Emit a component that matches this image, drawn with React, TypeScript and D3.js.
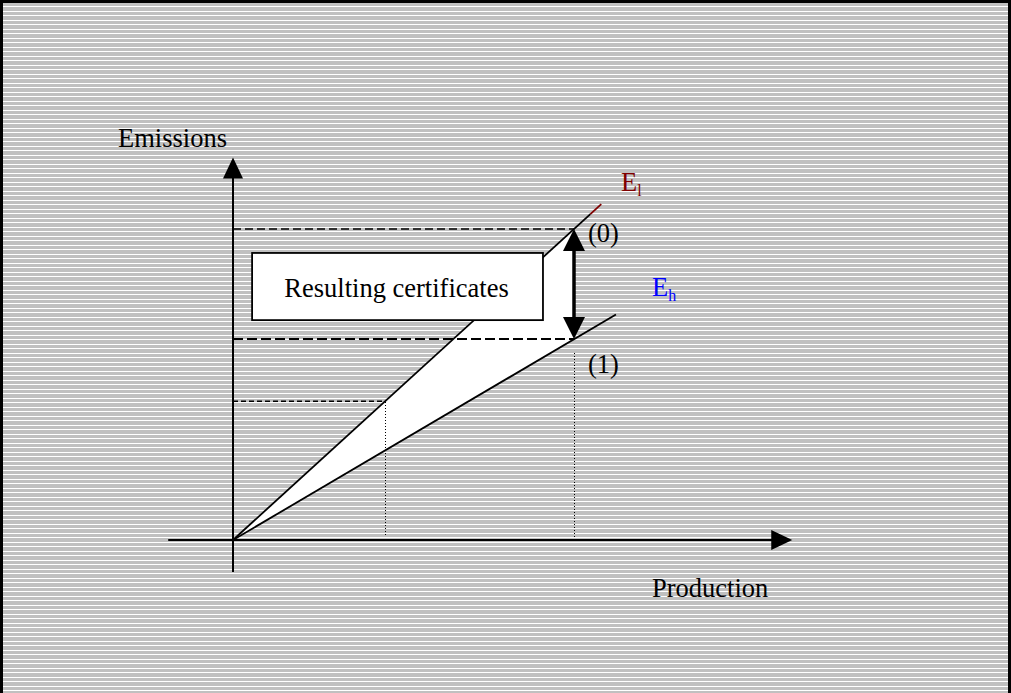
import * as d3 from "d3";
import { useEffect, useRef } from "react";

// abstract units: production on x, emissions on y (origin = 0,0)
const xAxisExtent = [-19, 164];
const yAxisExtent = [-10.3, 123];
const elLine = [
	{ x: 0, y: 0 },
	{ x: 108, y: 108 },
];
const elBlackEnd = 104.8;
const ehLine = [
	{ x: 0, y: 0 },
	{ x: 112.3, y: 72.5 },
];
const point0 = { x: 100, y: 100 };
const point1 = { x: 100, y: 64.6 };
const pointQ1 = { x: 44.6, y: 44.6 };
const certificateBox = { x0: 5.6, x1: 90.9, y0: 70.7, y1: 92.3 };

const W = 1011;
const H = 693;

const App = () => {
	const svgRef = useRef<SVGSVGElement>(null);

	useEffect(() => {
		const x = d3.scaleLinear().domain([0, 100]).range([233, 574]);
		const y = d3.scaleLinear().domain([0, 100]).range([540, 229]);
		const font = "'Liberation Serif', 'Times New Roman', serif";
		const fs = 26.5;

		const svg = d3.select(svgRef.current).html("");

		// striped background
		const defs = svg.append("defs");
		const pat = defs
			.append("pattern")
			.attr("id", "stripes")
			.attr("patternUnits", "userSpaceOnUse")
			.attr("width", 10)
			.attr("height", 9);
		pat.append("rect").attr("width", 10).attr("height", 9).attr("fill", "#c0c0c0");
		pat.append("rect").attr("y", 2).attr("width", 10).attr("height", 1).attr("fill", "#ffffff");
		pat.append("rect").attr("y", 6).attr("width", 10).attr("height", 1).attr("fill", "#ffffff");

		svg.append("rect")
			.attr("width", W)
			.attr("height", H)
			.attr("fill", "url(#stripes)");
		svg.append("rect")
			.attr("x", 1.5)
			.attr("y", 1.5)
			.attr("width", W - 3)
			.attr("height", H + 10)
			.attr("fill", "none")
			.attr("stroke", "#000")
			.attr("stroke-width", 3);

		const line = d3
			.line<{ x: number; y: number }>()
			.x((d) => x(d.x))
			.y((d) => y(d.y));

		// white area between the two curves up to q0
		svg.append("path")
			.datum([{ x: 0, y: 0 }, point0, point1])
			.attr("d", (d) => line(d) + "Z")
			.attr("fill", "#fff");

		// dashed guide lines
		svg.append("line")
			.attr("x1", x(0))
			.attr("x2", x(point0.x))
			.attr("y1", y(point0.y))
			.attr("y2", y(point0.y))
			.attr("stroke", "#000")
			.attr("stroke-width", 1.6)
			.attr("stroke-dasharray", "8,4");
		svg.append("line")
			.attr("x1", x(0))
			.attr("x2", x(point1.x))
			.attr("y1", y(point1.y))
			.attr("y2", y(point1.y))
			.attr("stroke", "#000")
			.attr("stroke-width", 2)
			.attr("stroke-dasharray", "10,4");
		svg.append("line")
			.attr("x1", x(0))
			.attr("x2", x(pointQ1.x))
			.attr("y1", y(pointQ1.y))
			.attr("y2", y(pointQ1.y))
			.attr("stroke", "#000")
			.attr("stroke-width", 1.6)
			.attr("stroke-dasharray", "5,3");

		// dotted verticals
		const dotted = (px: number, y1: number) =>
			svg.append("line")
				.attr("x1", Math.round(px) + 0.5)
				.attr("x2", Math.round(px) + 0.5)
				.attr("y1", y1)
				.attr("y2", y(0) - 3)
				.attr("stroke", "#000")
				.attr("stroke-width", 1)
				.attr("shape-rendering", "crispEdges")
				.attr("stroke-dasharray", "1,2");
		dotted(x(pointQ1.x), y(pointQ1.y) + 1);
		dotted(x(point1.x), y(point1.y) + 14);

		// E_l line (black body, red tip)
		svg.append("path")
			.datum([elLine[0], { x: elBlackEnd, y: elBlackEnd }])
			.attr("d", line)
			.attr("stroke", "#000")
			.attr("stroke-width", 1.8)
			.attr("fill", "none");
		svg.append("path")
			.datum([{ x: elBlackEnd, y: elBlackEnd }, elLine[1]])
			.attr("d", line)
			.attr("stroke", "#800000")
			.attr("stroke-width", 1.8)
			.attr("fill", "none");
		// E_h line
		svg.append("path")
			.datum(ehLine)
			.attr("d", line)
			.attr("stroke", "#000")
			.attr("stroke-width", 1.8)
			.attr("fill", "none");

		// certificate box
		svg.append("rect")
			.attr("x", x(certificateBox.x0))
			.attr("y", y(certificateBox.y1))
			.attr("width", x(certificateBox.x1) - x(certificateBox.x0))
			.attr("height", y(certificateBox.y0) - y(certificateBox.y1))
			.attr("fill", "#fff")
			.attr("stroke", "#000")
			.attr("stroke-width", 1.8);
		svg.append("text")
			.attr("x", (x(certificateBox.x0) + x(certificateBox.x1)) / 2 - 1)
			.attr("y", 297)
			.attr("text-anchor", "middle")
			.attr("font-family", font)
			.attr("font-size", fs)
			.text("Resulting certificates");

		// axes
		svg.append("line")
			.attr("x1", x(xAxisExtent[0]))
			.attr("x2", x(xAxisExtent[1]) - 10)
			.attr("y1", y(0))
			.attr("y2", y(0))
			.attr("stroke", "#000")
			.attr("stroke-width", 2);
		svg.append("path")
			.attr("d", `M${x(xAxisExtent[1])},${y(0)}L${x(xAxisExtent[1]) - 21},${y(0) - 10}L${x(xAxisExtent[1]) - 21},${y(0) + 10}Z`)
			.attr("fill", "#000");
		svg.append("line")
			.attr("x1", x(0))
			.attr("x2", x(0))
			.attr("y1", y(yAxisExtent[0]))
			.attr("y2", y(yAxisExtent[1]) + 10)
			.attr("stroke", "#000")
			.attr("stroke-width", 2);
		svg.append("path")
			.attr("d", `M${x(0)},${y(yAxisExtent[1])}L${x(0) - 10},${y(yAxisExtent[1]) + 21}L${x(0) + 10},${y(yAxisExtent[1]) + 21}Z`)
			.attr("fill", "#000");

		// double arrow between (0) and (1)
		const ax = x(point0.x);
		const top = y(point0.y);
		const bot = y(point1.y);
		svg.append("line")
			.attr("x1", ax)
			.attr("x2", ax)
			.attr("y1", top + 15)
			.attr("y2", bot - 15)
			.attr("stroke", "#000")
			.attr("stroke-width", 3.5);
		svg.append("path")
			.attr("d", `M${ax},${top}L${ax - 11},${top + 22}L${ax + 11},${top + 22}Z`)
			.attr("fill", "#000");
		svg.append("path")
			.attr("d", `M${ax},${bot}L${ax - 11},${bot - 22}L${ax + 11},${bot - 22}Z`)
			.attr("fill", "#000");

		// labels
		const label = (tx: number, ty: number, t: string, color = "#000") =>
			svg.append("text")
				.attr("x", tx)
				.attr("y", ty)
				.attr("font-family", font)
				.attr("font-size", fs)
				.attr("fill", color)
				.text(t);
		label(118, 147, "Emissions");
		label(652, 597, "Production");
		label(588, 242, "(0)");
		label(588, 373, "(1)");

		const sub = (tx: number, ty: number, main: string, s: string, color: string) => {
			const t = svg.append("text")
				.attr("x", tx)
				.attr("y", ty)
				.attr("font-family", font)
				.attr("font-size", fs)
				.attr("fill", color);
			t.append("tspan").text(main);
			t.append("tspan").attr("dy", 5).attr("font-size", 16).text(s);
		};
		sub(621, 191, "E", "l", "#800000");
		sub(652, 296, "E", "h", "#0000ff");
	}, []);

	return (
		<div style={{ position: "absolute", left: 0, top: 0 }}>
			<svg ref={svgRef} width={W} height={H} style={{ display: "block" }} />
		</div>
	);
};

export default App;
